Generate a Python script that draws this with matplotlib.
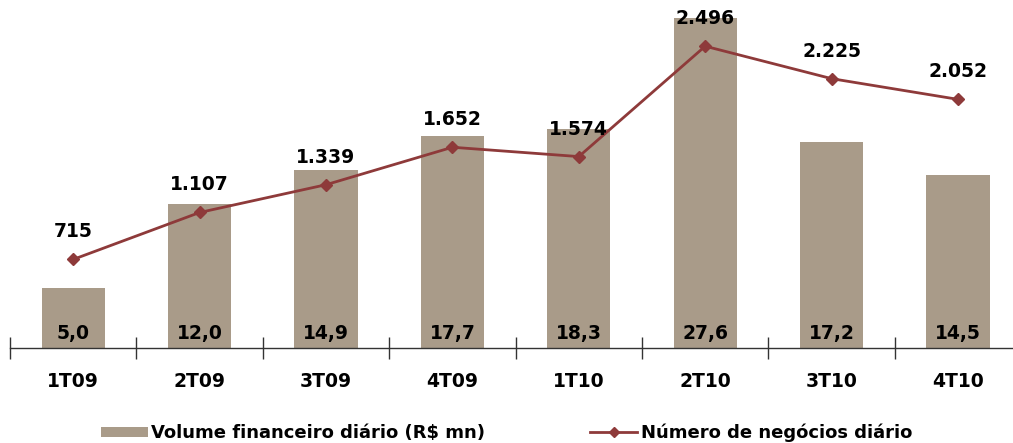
import matplotlib as mpl
mpl.use('Agg')
import matplotlib.pyplot as plt
from matplotlib.lines import Line2D
from matplotlib.patches import Patch
import numpy as np

quarters = ['1T09', '2T09', '3T09', '4T09', '1T10', '2T10', '3T10', '4T10']
volume = [5.0, 12.0, 14.9, 17.7, 18.3, 27.6, 17.2, 14.5]
trades = [715, 1107, 1339, 1652, 1574, 2496, 2225, 2052]

BAR_COLOR = '#a99b89'
LINE_COLOR = '#8e3a3a'
FONT = 'DejaVu Sans'


def fmt_br(value, decimals):
  # brazilian number format: dot for thousands, comma for decimals
  text = '{:,.{}f}'.format(value, decimals)
  return text.replace(',', 'X').replace('.', ',').replace('X', '.')


fig = plt.figure(figsize=(10.13, 4.43), dpi=100)
axis = fig.add_axes([10 / 1013, 95 / 443, 1 - 10 / 1013, 348 / 443])
x = np.arange(len(quarters))

axis.bar(x, volume, width=0.5, color=BAR_COLOR, zorder=1)
for xi, v in zip(x, volume):
  axis.text(xi, 0.45, fmt_br(v, 1), ha='center', va='bottom', fontsize=13.5,
            fontweight='bold', family=FONT, color='black')

for side in ['top', 'right', 'left']:
  axis.spines[side].set_visible(False)
axis.spines['bottom'].set_color('#333333')
axis.spines['bottom'].set_linewidth(1.0)
axis.set_yticks([])
axis.set_xticks(x)
axis.set_xticklabels(quarters, fontsize=13.5, fontweight='bold', family=FONT)
axis.tick_params(axis='x', which='major', length=0, pad=17)
axis.set_xticks(np.arange(-0.5, 8, 1), minor=True)
axis.tick_params(axis='x', which='minor', direction='inout', length=16, width=1, color='#333333')
# limits after the ticks, otherwise set_xticks widens them
axis.set_xlim(-0.5, 7.435)
axis.set_ylim(0, 29.1)

line_axis = axis.twinx()
line_axis.set_ylim(-25, 2882)
line_axis.axis('off')
line_axis.plot(x, trades, color=LINE_COLOR, linewidth=2, marker='D', markersize=6, zorder=3)
for xi, v in zip(x, trades):
  line_axis.annotate(fmt_br(v, 0), (xi, v), xytext=(0, 13), textcoords='offset points',
                     ha='center', va='bottom', fontsize=13.5, fontweight='bold', family=FONT,
                     color='black')

handles = [Patch(facecolor=BAR_COLOR, edgecolor='none'),
           Line2D([0], [0], color=LINE_COLOR, linewidth=2, marker='D', markersize=5)]
labels = ['Volume financeiro diário (R$ mn)', 'Número de negócios diário']
fig.legend(handles, labels, loc='lower center', bbox_to_anchor=(0.5, -0.035), ncol=2, frameon=False,
           prop={'family': FONT, 'weight': 'bold', 'size': 13}, columnspacing=5.8, handlelength=2.6,
           handleheight=0.5, handletextpad=0.2)

fig.savefig('out.png', dpi=100)
plt.close()
